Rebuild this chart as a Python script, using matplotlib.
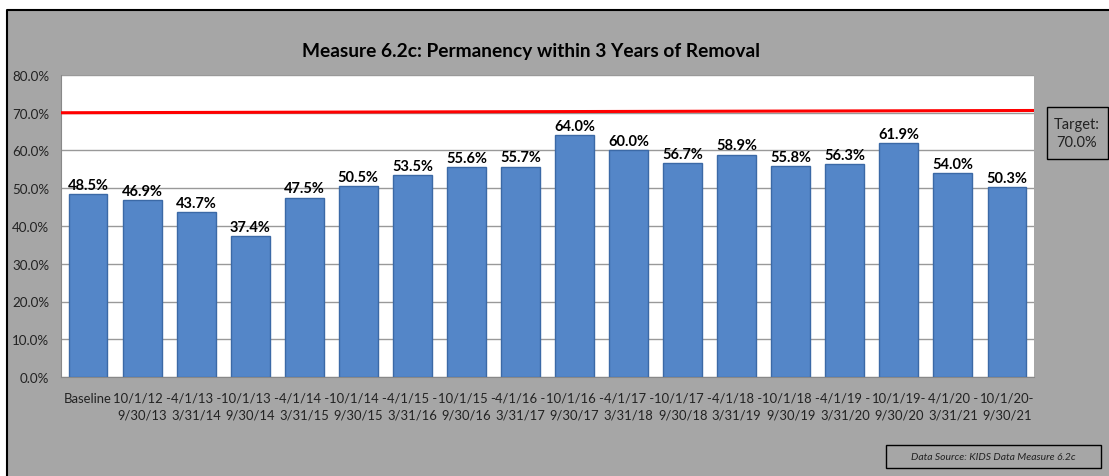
import matplotlib
matplotlib.use("Agg")
import matplotlib.pyplot as plt
from matplotlib.patches import Rectangle

categories = ["Baseline", "10/1/12 -\n9/30/13", "4/1/13 -\n3/31/14", "10/1/13 -\n9/30/14",
              "4/1/14 -\n3/31/15", "10/1/14 -\n9/30/15", "4/1/15 -\n3/31/16", "10/1/15 -\n9/30/16",
              "4/1/16 -\n3/31/17", "10/1/16 -\n9/30/17", "4/1/17 -\n3/31/18", "10/1/17 -\n9/30/18",
              "4/1/18 -\n3/31/19", "10/1/18 -\n9/30/19", "4/1/19 -\n3/31/20", "10/1/19-\n9/30/20",
              "4/1/20 -\n3/31/21", "10/1/20-\n9/30/21"]
values = [48.5, 46.9, 43.7, 37.4, 47.5, 50.5, 53.5, 55.6, 55.7, 64.0, 60.0, 56.7,
          58.9, 55.8, 56.3, 61.9, 54.0, 50.3]
target_line = [70.0, 70.6]
target_label = "Target:\n70.0%"
yticks = [0, 10, 20, 30, 40, 50, 60, 70, 80]
title = "Measure 6.2c: Permanency within 3 Years of Removal"
source = "Data Source: KIDS Data Measure 6.2c"

plt.rcParams['font.family'] = ['Lato', 'DejaVu Sans']

W, H = 1109, 477
fig = plt.figure(figsize=(W / 100, H / 100), dpi=100)
fig.patch.set_facecolor("white")

# background panel
bg = fig.add_axes([0, 0, 1, 1], zorder=0)
bg.set_xlim(0, W)
bg.set_ylim(H, 0)
bg.axis("off")
gray = "#A6A6A6"
bg.add_patch(Rectangle((7, 11), W - 7, H - 11, facecolor=gray, edgecolor="none"))
bg.plot([7, 7, W], [H, 11, 11], color="black", lw=1.5)
bg.add_patch(Rectangle((1047, 108), 1108 - 1047, 160 - 108, facecolor="none", edgecolor="black", lw=1.0))
bg.text(1077, 134, target_label, ha="center", va="center", fontsize=10.5,
        color="#222222", linespacing=1.3)
bg.add_patch(Rectangle((886, 446), 1101 - 886, 469 - 446, facecolor="none", edgecolor="black", lw=1.0))
bg.text(993, 457.5, source, ha="center", va="center", fontsize=7.5, style="italic", color="#222222")
bg.text(531, 52, title, ha="center", va="center", fontsize=13.8, fontweight="bold", color="black")

ax = fig.add_axes([61 / W, (H - 378) / H, (1034 - 61) / W, (378 - 76) / H], zorder=2)
ax.set_facecolor("white")
n = len(categories)
x = list(range(n))
ax.bar(x, values, width=0.72, color="#5486C8", edgecolor="#3B69A6", linewidth=1.0, zorder=3)
for xi, v in zip(x, values):
    ax.text(xi, v + 0.6, f"{v:.1f}%", ha="center", va="bottom", fontsize=10.5,
            fontweight="bold", color="black", zorder=4)

ax.plot([-0.5, n - 0.5], target_line, color="#FF0000", lw=2.2, zorder=5, solid_capstyle="butt")

ax.set_xlim(-0.5, n - 0.5)
ax.set_ylim(0, 80)
ax.set_yticks(yticks)
ax.set_yticklabels([f"{t:.1f}%" for t in yticks], fontsize=9.6, color="#222222")
ax.set_xticks(x)
ax.set_xticklabels(categories, fontsize=9.4, color="#222222", linespacing=1.5)
ax.tick_params(axis="y", length=0, pad=8.5)
ax.tick_params(axis="x", length=0, pad=10.5)
ax.grid(axis="y", color="#999999", lw=1.0, zorder=0)
ax.set_axisbelow(True)
for s in ["top", "right"]:
    ax.spines[s].set_visible(False)
for s in ["left", "bottom"]:
    ax.spines[s].set_color("#888888")

fig.savefig("out.png", dpi=100, facecolor=fig.get_facecolor())
